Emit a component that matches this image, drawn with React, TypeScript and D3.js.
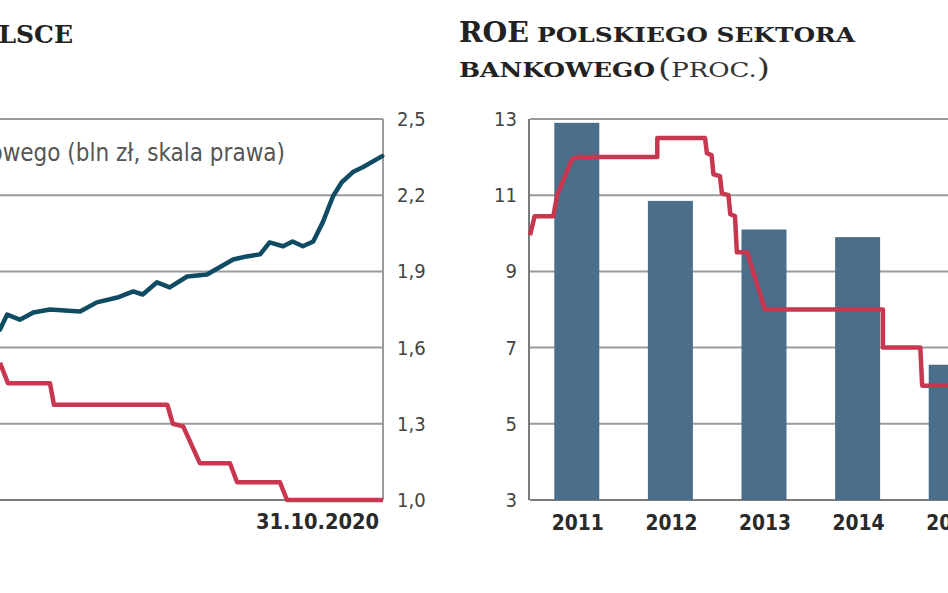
import * as d3 from "d3";

const W = 948;
const H = 593;

// left panel (cut off at the page edge): deposits, bln zł on the right scale
const depT = [2016.0, 2016.09, 2016.25, 2016.42, 2016.63, 2017.01, 2017.22, 2017.48, 2017.68, 2017.8, 2017.98, 2018.14, 2018.36, 2018.61, 2018.94, 2019.11, 2019.28, 2019.4, 2019.57, 2019.69, 2019.82, 2019.95, 2020.07, 2020.2, 2020.31, 2020.45, 2020.58, 2020.82];
const depV = [1.671, 1.73, 1.71, 1.738, 1.75, 1.742, 1.778, 1.797, 1.821, 1.809, 1.857, 1.837, 1.88, 1.888, 1.947, 1.959, 1.967, 2.014, 1.999, 2.018, 1.999, 2.018, 2.093, 2.196, 2.251, 2.291, 2.311, 2.354];

// interest rate (left scale, labels cut off)
const rateT = [2016.0, 2016.1, 2016.63, 2016.68, 2018.11, 2018.18, 2018.31, 2018.52, 2018.9, 2018.99, 2019.53, 2019.62, 2020.83];
const rateV = [0.54, 0.46, 0.46, 0.375, 0.375, 0.3, 0.29, 0.145, 0.145, 0.07, 0.07, 0, 0];

const depTicks = [1.0, 1.3, 1.6, 1.9, 2.2, 2.5];

// right panel: ROE
const years = [2011, 2012, 2013, 2014, 2015];
const roeYear = [12.9, 10.85, 10.1, 9.9, 6.55];
const roeT = [2011.0, 2011.05, 2011.25, 2011.29, 2011.45, 2011.51, 2012.36, 2012.36, 2012.87, 2012.89, 2012.94, 2012.96, 2013.03, 2013.05, 2013.12, 2013.14, 2013.19, 2013.21, 2013.32, 2013.51, 2014.77, 2014.77, 2015.17, 2015.19, 2015.6];
const roeV = [9.95, 10.45, 10.45, 11.0, 11.95, 12.0, 12.0, 12.5, 12.5, 12.1, 12.05, 11.55, 11.5, 11.05, 11.0, 10.5, 10.45, 9.5, 9.5, 8.0, 8.0, 7.0, 7.0, 6.0, 6.0];
const roeTicks = [3, 5, 7, 9, 11, 13];

const GRID = "#9b9b9b";
const AXIS = "#7a7a7a";
const BLUE = "#0f4c63";
const RED = "#c7374f";
const BAR = "#4b6e8b";
const SANS = "'Liberation Sans Narrow', 'DejaVu Sans Condensed', 'Roboto', sans-serif";
const SERIF = "'DejaVu Serif', 'Liberation Serif', serif";

export default function App() {
  const top = 119;
  const bottom = 500;

  const xL = d3.scaleLinear().domain([2016, 2020.83]).range([0, 383]);
  const yDep = d3.scaleLinear().domain([1.0, 2.5]).range([bottom, top]);
  const yRate = d3.scaleLinear().domain([0, 1.5]).range([bottom, top]);

  const xR = d3.scaleLinear().domain([2011, 2016]).range([530, 530 + 5 * 93.6]);
  const yRoe = d3.scaleLinear().domain([3, 13]).range([bottom, top]);

  const fmt = (v: number) => d3.format(".1f")(v).replace(".", ",");

  const depLine = d3
    .line<number>()
    .x((_d, i) => xL(depT[i]))
    .y((d) => yDep(d));
  const rateLine = d3
    .line<number>()
    .x((_d, i) => xL(rateT[i]))
    .y((d) => yRate(d));
  const roeLine = d3
    .line<number>()
    .x((_d, i) => xR(roeT[i]))
    .y((d) => yRoe(d));

  const barW = 45;

  return (
    <svg
      width={W}
      height={H}
      style={{ position: "absolute", left: 0, top: 0, background: "#fff" }}
    >
      {/* titles */}
      <text x={73} y={43} textAnchor="end" fontFamily={SERIF} fontWeight="bold" fontSize={25} fill="#222">
        W POLSCE
      </text>
      <text x={459} y={42} fontFamily={SERIF} fontWeight="bold" fontSize={27} fill="#222" textLength={70} lengthAdjust="spacingAndGlyphs">
        ROE
      </text>
      <text x={537} y={42} fontFamily={SERIF} fontWeight="bold" fontSize={20} fill="#222" textLength={318} lengthAdjust="spacingAndGlyphs">
        POLSKIEGO SEKTORA
      </text>
      <text x={459} y={77} fontFamily={SERIF} fontWeight="bold" fontSize={20} fill="#222" textLength={196} lengthAdjust="spacingAndGlyphs">
        BANKOWEGO
      </text>
      <text x={658} y={77} fontFamily={SERIF} fontSize={20} fill="#333" textLength={112} lengthAdjust="spacingAndGlyphs">
        <tspan fontSize={26}>(</tspan>PROC.<tspan fontSize={26}>)</tspan>
      </text>

      {/* left panel */}
      {depTicks.map((t) => (
        <line
          key={"gl" + t}
          x1={0}
          x2={xL(2020.83)}
          y1={yDep(t)}
          y2={yDep(t)}
          stroke={t === 1.0 ? AXIS : GRID}
          strokeWidth={2}
        />
      ))}
      <line x1={xL(2020.83)} x2={xL(2020.83)} y1={top} y2={bottom} stroke={GRID} strokeWidth={2} />
      {depTicks.map((t) => (
        <text key={"tl" + t} x={397} y={yDep(t)} dy="0.35em" fontFamily={SANS} fontSize={20} fill="#444">
          {fmt(t)}
        </text>
      ))}
      <text x={285} y={153} dy="0.35em" textAnchor="end" fontFamily={SANS} fontSize={24} fill="#555">
        Depozyty sektora bankowego (bln zł, skala prawa)
      </text>
      <path d={rateLine(rateV) ?? ""} fill="none" stroke={RED} strokeWidth={4.5} strokeLinejoin="round" />
      <path d={depLine(depV) ?? ""} fill="none" stroke={BLUE} strokeWidth={4.5} strokeLinejoin="round" strokeLinecap="round" />
      <text x={379} y={521} dy="0.35em" textAnchor="end" fontFamily={SANS} fontSize={22} fontWeight="bold" fill="#2a2a2a" textLength={123} lengthAdjust="spacingAndGlyphs">
        31.10.2020
      </text>

      {/* right panel */}
      {roeTicks.map((t) => (
        <line
          key={"gr" + t}
          x1={xR(2011)}
          x2={W}
          y1={yRoe(t)}
          y2={yRoe(t)}
          stroke={t === 3 ? AXIS : GRID}
          strokeWidth={2}
        />
      ))}
      <line x1={xR(2011) - 1} x2={xR(2011) - 1} y1={top} y2={bottom} stroke={AXIS} strokeWidth={2} />
      {roeTicks.map((t) => (
        <text key={"tr" + t} x={517} y={yRoe(t)} dy="0.35em" textAnchor="end" fontFamily={SANS} fontSize={20} fill="#444">
          {t}
        </text>
      ))}
      {years.map((yr, i) => (
        <rect
          key={"b" + yr}
          x={xR(yr + 0.5) - barW / 2}
          width={barW}
          y={yRoe(roeYear[i])}
          height={yRoe(3) - yRoe(roeYear[i])}
          fill={BAR}
        />
      ))}
      <path d={roeLine(roeV) ?? ""} fill="none" stroke={RED} strokeWidth={4.5} strokeLinejoin="round" />
      {years.map((yr) => (
        <text key={"y" + yr} x={xR(yr + 0.5) + 1} y={522} dy="0.35em" textAnchor="middle" fontFamily={SANS} fontSize={22} fontWeight="bold" fill="#2a2a2a" textLength={52} lengthAdjust="spacingAndGlyphs">
          {yr}
        </text>
      ))}
    </svg>
  );
}
